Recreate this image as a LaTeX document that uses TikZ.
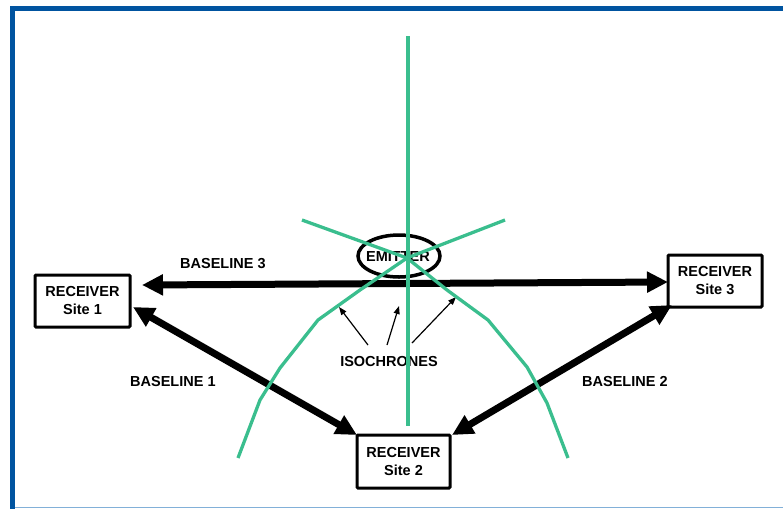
\documentclass[tikz,border=0pt]{standalone}
\usepackage{fontspec}
\setmainfont{Liberation Sans}
\usetikzlibrary{arrows.meta,shapes.geometric}
\definecolor{frameblue}{RGB}{0,84,160}
\definecolor{framelight}{RGB}{130,176,216}
\definecolor{isogreen}{RGB}{58,190,142}
\begin{document}
\begin{tikzpicture}[x=1pt,y=-1pt,
  lbl/.style={font=\fontsize{14.5}{16}\selectfont\bfseries, inner sep=0pt},
  rbox/.style={draw, line width=3pt, rounded corners=1pt, inner sep=0pt, align=center,
     font=\fontsize{14.5}{18}\selectfont\bfseries},
  baseline/.style={line width=7pt, {Triangle[length=21pt,width=20pt]}-{Triangle[length=21pt,width=20pt]}},
  iso/.style={isogreen, line width=3.3pt, line join=miter},
  thinarrow/.style={line width=1.2pt, -{Triangle[length=8pt,width=6pt]}}]
\useasboundingbox (0,0) rectangle (783,509);
% frame
\draw[frameblue, line width=5pt] (10,8.5) -- (783,8.5);
\draw[frameblue, line width=5pt] (12.5,6) -- (12.5,509);
\draw[framelight, line width=1.5pt] (15,507.5) -- (783,507.5);
% receivers
\node[rbox, minimum width=95pt, minimum height=52pt] (r1) at (82.5,301) {RECEIVER\\Site 1};
\node[rbox, minimum width=94pt, minimum height=52pt] (r3) at (715,281) {RECEIVER\\Site 3};
\node[rbox, minimum width=93pt, minimum height=53pt] (r2) at (403.5,461.5) {RECEIVER\\Site 2};
% emitter
\node[draw, ellipse, line width=3.5pt, minimum width=82pt, minimum height=42pt, inner sep=0pt] (em) at (399,256) {};
\node[lbl] (emt) at (398,257) {EMITTER};
% baseline tip coordinates
\coordinate (b3a) at (142,285);
\coordinate (b3b) at (668,282);
\coordinate (b1a) at (133,307);
\coordinate (b1b) at (357,435);
\coordinate (b2a) at (452,435);
\coordinate (b2b) at (672,305);
\draw[baseline] (b3a) -- (b3b);
\draw[baseline] (b1a) -- (b1b);
\draw[baseline] (b2a) -- (b2b);
% baseline labels
\node[lbl, anchor=west] (l3) at (180,264) {BASELINE 3};
\node[lbl, anchor=west] (l1) at (130,381) {BASELINE 1};
\node[lbl, anchor=west] (l2) at (582,381) {BASELINE 2};
% isochrones label and arrows
\node[lbl] (isol) at (389,361) {ISOCHRONES};
\coordinate (i1s) at (368,345); \coordinate (i1e) at (339,307);
\coordinate (i2s) at (387,345); \coordinate (i2e) at (399,306);
\coordinate (i3s) at (412,343); \coordinate (i3e) at (456,297);
\draw[thinarrow] (i1s) -- (i1e);
\draw[thinarrow] (i2s) -- (i2e);
\draw[thinarrow] (i3s) -- (i3e);
% isochrones
\coordinate (c) at (407,258);
\draw[iso] (408,36) -- (408,426);
\draw[iso] (505,220) -- (c) -- (360,290) -- (318,320) -- (299,344) -- (280,368) -- (260,400) -- (238,458);
\draw[iso] (302,220) -- (c) -- (447,290) -- (488,320) -- (527,367) -- (547,403) -- (568,458);
\end{tikzpicture}
\end{document}
